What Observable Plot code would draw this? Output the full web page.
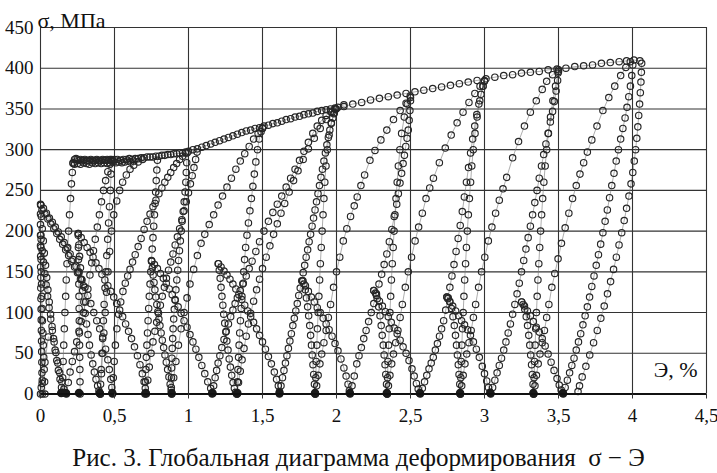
<!DOCTYPE html>
<html><head><meta charset="utf-8">
<script src="https://cdn.jsdelivr.net/npm/d3@7"></script>
<script src="https://cdn.jsdelivr.net/npm/@observablehq/plot@0.6"></script>
<style>
body{margin:0;background:#fff;width:717px;height:473px;overflow:hidden;font-family:"Liberation Serif","Times New Roman",serif;position:relative}
#chart{position:absolute;left:0;top:0}
#chart svg text{font-family:"Liberation Serif","Times New Roman",serif}
#cap{position:absolute;left:0;top:440px;width:717px;text-align:center;font-size:25px;line-height:35px;color:#111;white-space:pre}
</style></head><body><div id="chart"></div><div id="cap">Рис. 3. Глобальная диаграмма деформирования  σ − Э</div>
<script>
// ---- tick values ----
const xTicks = [0,0.5,1,1.5,2,2.5,3,3.5,4,4.5];
const yTicks = [0,50,100,150,200,250,300,350,400,450];
// ---- zero-stress points where curves touch the axis ----
const vBottoms = [0.14,0.172,0.26,0.40,0.485,0.71,0.886,1.16,1.33,1.615,1.855,2.09,2.34,2.564,2.835,3.04,3.33,3.53];
// ---- envelope (strain %, stress MPa) ----
const envelope = [[0.22,284],[0.23,288],[0.24,289],[0.25,288],[0.26,287],[0.27,288],[0.28,286],[0.29,287],[0.30,288],[0.31,286],[0.32,287],[0.33,286],[0.34,288],[0.35,287],[0.36,286],[0.37,287],[0.38,288],[0.39,287],[0.40,286],[0.41,287],[0.42,288],[0.43,287],[0.44,287],[0.45,288],[0.46,287],[0.47,288],[0.48,288],[0.49,287],[0.50,288],[0.52,288],[0.54,287],[0.56,288],[0.58,288],[0.60,289],[0.62,288],[0.64,289],[0.66,289],[0.68,290],[0.70,290],[0.72,291],[0.74,291],[0.76,291],[0.78,292],[0.80,292],[0.82,293],[0.84,293],[0.86,294],[0.88,294],[0.90,295],[0.92,295],[0.94,296],[0.96,296],[0.98,297],[1.00,298],[1.03,300],[1.06,301],[1.09,303],[1.12,305],[1.15,307],[1.18,309],[1.21,311],[1.24,313],[1.27,315],[1.30,317],[1.33,319],[1.36,321],[1.39,323],[1.42,324],[1.45,326],[1.48,327],[1.51,329],[1.54,330],[1.57,332],[1.60,333],[1.63,335],[1.66,337],[1.69,338],[1.72,340],[1.75,341],[1.78,343],[1.81,344],[1.84,345],[1.87,347],[1.90,348],[1.93,349],[1.96,350],[1.99,351],[2.05,353],[2.11,356],[2.17,358],[2.23,361],[2.29,363],[2.35,365],[2.41,367],[2.47,369],[2.53,371],[2.59,373],[2.65,375],[2.71,377],[2.77,379],[2.83,381],[2.89,383],[2.95,385],[3.01,387],[3.07,389],[3.13,391],[3.19,392],[3.25,394],[3.31,395],[3.37,396],[3.43,398],[3.49,399],[3.55,400],[3.61,402],[3.67,403],[3.73,404],[3.79,406],[3.85,407],[3.91,408],[3.96,409],[4.01,410],[4.05,409]];
const plateauLow = [[0.23,282],[0.25,283],[0.27,282],[0.29,284],[0.31,283],[0.33,282],[0.35,284],[0.37,283],[0.39,284],[0.41,283],[0.43,284],[0.45,283],[0.47,284],[0.49,285],[0.51,284],[0.53,285],[0.55,284],[0.57,285],[0.59,286],[0.61,285],[0.63,286]];
// ---- first cycles ----
const initLoad = [[0,0],[0.005,8],[0.012,17],[0.03,39],[0.053,70]];
const riseA = [[0.012,0],[0.011,13],[0.01,26],[0.009,39],[0.008,52],[0.007,65],[0.006,78],[0.005,91],[0.004,104],[0.003,117],[0.002,130],[0.002,143],[0.001,156],[0.001,169],[0,182],[0,195],[0,208],[0,221],[0.002,232]];
const riseA2 = [[0.03,0],[0.028,15],[0.025,30],[0.022,45],[0.019,60],[0.016,75],[0.013,90],[0.011,105],[0.009,120],[0.007,135],[0.005,150],[0.004,165],[0.003,180],[0.003,195]];
const steepA1 = [[0.002,232],[0.006,218],[0.012,203],[0.019,188],[0.026,173],[0.034,158],[0.042,143],[0.05,128],[0.059,113],[0.068,98],[0.078,83],[0.088,68],[0.099,54],[0.11,41],[0.121,29],[0.132,18],[0.142,8],[0.149,1]];
const steepA2 = [[0.004,190],[0.012,176],[0.02,162],[0.029,148],[0.038,134],[0.048,120],[0.058,106],[0.069,92],[0.08,78],[0.092,64],[0.104,51],[0.117,38],[0.13,26],[0.144,15],[0.158,6],[0.17,1]];
const dropA = [[0,233],[0.02,228],[0.04,222],[0.06,216],[0.08,211],[0.1,205],[0.12,199],[0.14,193],[0.16,186],[0.18,179],[0.2,172],[0.22,165],[0.24,157],[0.26,149],[0.28,140],[0.3,131],[0.32,121],[0.34,111],[0.36,100],[0.38,90],[0.4,80],[0.42,68],[0.44,55],[0.455,42],[0.465,30],[0.475,18],[0.482,8],[0.486,1]];
const dropA2 = [[0.01,226],[0.03,221],[0.05,215],[0.07,209],[0.09,203],[0.11,197],[0.13,190],[0.15,184],[0.17,177],[0.19,170],[0.21,163],[0.23,156],[0.25,149],[0.27,141],[0.29,133]];
const yieldLoad = [[0.147,2],[0.15,20],[0.153,40],[0.157,60],[0.161,80],[0.165,100],[0.17,120],[0.174,140],[0.179,160],[0.184,180],[0.19,200],[0.196,220],[0.203,240],[0.209,258],[0.215,272],[0.22,283]];
const riseB = [[0.268,0],[0.267,15],[0.266,30],[0.265,45],[0.264,60],[0.263,75],[0.262,90],[0.261,105],[0.26,120],[0.259,135],[0.258,150],[0.257,165],[0.256,180],[0.255,195]];
const steepB = [[0.255,197],[0.259,183],[0.264,169],[0.27,155],[0.277,141],[0.285,127],[0.293,113],[0.302,99],[0.311,86],[0.321,73],[0.331,60],[0.342,48],[0.353,37],[0.364,27],[0.375,18],[0.386,10],[0.395,4],[0.402,0]];
const dropB = [[0.255,197],[0.275,192],[0.295,186],[0.315,180],[0.335,174],[0.355,168],[0.375,161],[0.395,154],[0.415,147],[0.435,140],[0.455,133],[0.475,126],[0.495,119],[0.515,111],[0.535,103],[0.555,95],[0.575,86],[0.595,77],[0.615,68],[0.635,58],[0.655,47],[0.672,36],[0.688,25],[0.7,15],[0.708,7],[0.712,1]];
const load1 = [[0.175,0],[0.188,14],[0.2,27],[0.215,40],[0.23,52],[0.245,64],[0.26,77],[0.275,89],[0.29,100],[0.305,113],[0.32,129],[0.334,146],[0.346,161],[0.358,176],[0.37,190],[0.384,205],[0.398,220],[0.412,236],[0.426,250],[0.44,262],[0.455,273],[0.47,282],[0.48,286]];
const unload1 = [[0.48,287],[0.477,270],[0.472,250],[0.466,230],[0.46,210],[0.454,190],[0.448,170],[0.442,150],[0.436,130],[0.43,110],[0.425,90],[0.42,70],[0.415,50],[0.41,30],[0.406,12],[0.404,0]];
const load2 = [[0.405,0],[0.412,25],[0.42,50],[0.428,75],[0.437,100],[0.446,125],[0.456,150],[0.467,175],[0.48,200],[0.495,220],[0.515,237],[0.535,250],[0.555,260],[0.58,269],[0.605,276],[0.63,281],[0.66,285],[0.69,288]];
const load3 = [[0.487,0],[0.492,20],[0.498,40],[0.506,60],[0.516,80],[0.528,98],[0.542,113],[0.557,126],[0.573,136],[0.589,145],[0.605,153],[0.622,162],[0.64,171],[0.66,181],[0.68,191],[0.7,202],[0.72,212],[0.74,221],[0.76,230],[0.78,238],[0.8,246],[0.82,253],[0.84,260],[0.86,266],[0.88,272],[0.9,278],[0.92,283],[0.94,288],[0.96,292],[0.98,296]];
const steepK = [[0.706,0],[0.709,15],[0.712,30],[0.715,45],[0.719,60],[0.723,75],[0.727,90],[0.731,105],[0.735,120],[0.74,135],[0.745,150],[0.75,164],[0.755,178],[0.76,192],[0.765,206],[0.77,220],[0.774,234],[0.778,248],[0.782,262],[0.786,275],[0.79,287]];
// ---- cycle to 1.0 % ----
const riseC = [[0.752,163],[0.756,155],[0.761,146],[0.767,137],[0.773,128],[0.779,119],[0.786,110],[0.793,101],[0.8,92],[0.807,84],[0.815,75],[0.823,66],[0.832,57],[0.841,48],[0.85,39],[0.859,30],[0.868,21],[0.876,12],[0.883,5],[0.887,0]];
const dropC = [[0.75,163],[0.77,159],[0.79,154],[0.81,148],[0.83,142],[0.85,136],[0.87,129],[0.89,122],[0.91,115],[0.93,107],[0.95,99],[0.97,90],[0.99,82],[1.01,73],[1.03,64],[1.05,55],[1.07,45],[1.09,35],[1.11,25],[1.13,15],[1.15,7],[1.165,1]];
const loadC = [[0.715,0],[0.725,17],[0.735,33],[0.747,50],[0.76,64],[0.773,77],[0.785,88],[0.797,99],[0.81,109],[0.823,120],[0.837,131],[0.851,142],[0.865,152],[0.88,162],[0.895,172],[0.91,183],[0.925,193],[0.94,203],[0.955,214],[0.97,225],[0.985,236],[1.0,247],[1.013,258],[1.025,268],[1.037,278],[1.048,288],[1.058,297]];
const unloadC = [[0.99,296],[0.988,284],[0.985,272],[0.982,260],[0.977,248],[0.971,236],[0.964,224],[0.957,212],[0.951,200],[0.945,188],[0.939,176],[0.933,164],[0.927,152],[0.921,140],[0.915,128],[0.909,116],[0.904,104],[0.9,92],[0.896,80],[0.893,68],[0.89,56],[0.888,44],[0.886,32],[0.885,20],[0.884,8]];
const gentleC = [[0.886,0],[0.9,20],[0.915,40],[0.932,60],[0.95,80],[0.97,100],[0.99,118],[1.01,135],[1.035,153],[1.06,170],[1.085,185],[1.11,196],[1.14,208],[1.17,220],[1.2,232],[1.23,243],[1.26,254],[1.29,265],[1.32,276],[1.35,286],[1.38,295],[1.41,304],[1.44,313],[1.47,320],[1.5,326]];
// ---- cycle to 1.5 % ----
const riseD = [[1.203,160],[1.208,152],[1.214,142],[1.22,131],[1.226,120],[1.232,109],[1.238,98],[1.245,87],[1.252,76],[1.259,65],[1.267,54],[1.275,43],[1.283,33],[1.292,23],[1.301,14],[1.31,7],[1.318,2],[1.325,0]];
const dropD = [[1.2,160],[1.22,156],[1.24,151],[1.26,146],[1.28,141],[1.3,135],[1.32,129],[1.34,122],[1.36,116],[1.38,109],[1.4,102],[1.42,95],[1.44,88],[1.46,80],[1.48,72],[1.5,64],[1.52,55],[1.54,46],[1.56,37],[1.58,27],[1.595,18],[1.607,10],[1.615,3]];
const loadD = [[1.16,0],[1.17,10],[1.18,20],[1.19,29],[1.2,38],[1.212,47],[1.225,57],[1.24,67],[1.255,77],[1.27,86],[1.285,95],[1.3,103],[1.315,111],[1.33,118],[1.35,127],[1.37,136],[1.39,145],[1.41,154],[1.43,163],[1.455,175],[1.48,187],[1.51,200],[1.54,212],[1.57,223],[1.6,233],[1.63,243],[1.66,254],[1.69,265],[1.72,276],[1.75,287],[1.78,298],[1.81,309],[1.84,320],[1.87,329],[1.9,336],[1.93,342],[1.96,347],[1.99,350]];
const steepD = [[1.328,0],[1.331,15],[1.334,30],[1.338,45],[1.342,60],[1.346,75],[1.351,90],[1.356,105],[1.361,120],[1.367,135],[1.373,150],[1.379,165],[1.386,180],[1.395,195],[1.405,210],[1.415,225],[1.425,240],[1.435,255],[1.445,270],[1.455,285],[1.466,300],[1.478,313],[1.49,322],[1.5,327]];
const gentleD = [[1.328,0],[1.338,14],[1.35,28],[1.362,42],[1.375,56],[1.39,71],[1.405,86],[1.42,99],[1.44,114],[1.46,128],[1.48,141],[1.5,154],[1.525,168],[1.55,182],[1.575,196],[1.6,209],[1.625,222],[1.65,234],[1.68,248],[1.71,262],[1.74,274],[1.775,288],[1.81,301],[1.85,314],[1.89,326],[1.93,337],[1.97,346],[2.01,352],[2.05,355]];
// ---- cycle to 2.0 % ----
const loadE = [[1.615,0],[1.625,10],[1.635,20],[1.645,29],[1.655,38],[1.665,47],[1.675,56],[1.685,65],[1.695,74],[1.705,84],[1.715,93],[1.725,102],[1.735,111],[1.745,121],[1.755,130],[1.765,139],[1.775,149],[1.785,158],[1.795,168],[1.805,177],[1.815,187],[1.825,196],[1.835,206],[1.845,216],[1.855,226],[1.865,236],[1.875,246],[1.885,256],[1.895,266],[1.905,276],[1.915,286],[1.925,296],[1.935,306],[1.945,315],[1.955,324],[1.965,332],[1.975,339],[1.985,345],[1.995,350]];
const steepE = [[1.857,0],[1.86,20],[1.863,40],[1.867,60],[1.871,80],[1.876,100],[1.881,120],[1.886,140],[1.891,160],[1.897,180],[1.903,200],[1.909,220],[1.915,240],[1.921,260],[1.929,280],[1.938,300],[1.95,318],[1.965,333],[1.982,344],[1.998,350]];
const riseE = [[1.855,0],[1.851,12],[1.846,24],[1.841,36],[1.836,48],[1.831,60],[1.825,72],[1.819,84],[1.812,96],[1.805,107],[1.797,118],[1.789,128],[1.78,135],[1.772,139]];
const dropE = [[1.772,139],[1.79,133],[1.81,126],[1.83,119],[1.85,113],[1.87,106],[1.89,100],[1.91,93],[1.93,86],[1.95,79],[1.97,71],[1.99,62],[2.01,53],[2.03,43],[2.05,32],[2.065,22],[2.078,12],[2.087,4]];
const gentleE = [[1.857,0],[1.866,10],[1.876,23],[1.888,37],[1.9,49],[1.915,63],[1.93,78],[1.945,94],[1.96,110],[1.98,131],[2.0,150],[2.022,168],[2.046,188],[2.07,203],[2.095,218],[2.12,231],[2.14,242],[2.165,256],[2.19,269],[2.226,287],[2.26,299],[2.3,312],[2.34,324],[2.385,337],[2.43,348],[2.47,357],[2.5,364]];
// ---- cycle to 2.5 % ----
const loadF = [[2.092,0],[2.105,10],[2.12,22],[2.137,37],[2.152,47],[2.168,57],[2.184,68],[2.2,78],[2.217,89],[2.235,100],[2.252,111],[2.27,123],[2.287,135],[2.305,147],[2.322,159],[2.34,172],[2.357,187],[2.374,202],[2.39,218],[2.407,233],[2.418,246],[2.429,259],[2.44,271],[2.45,283],[2.459,293],[2.468,304],[2.477,314],[2.485,324],[2.491,336],[2.496,348],[2.5,360]];
const steepF = [[2.342,0],[2.345,20],[2.348,40],[2.352,60],[2.356,80],[2.361,100],[2.366,120],[2.371,140],[2.377,160],[2.383,180],[2.389,200],[2.395,220],[2.402,240],[2.41,260],[2.418,280],[2.428,300],[2.44,320],[2.458,340],[2.478,356],[2.498,366]];
const riseF = [[2.342,0],[2.338,12],[2.333,24],[2.328,36],[2.322,48],[2.316,60],[2.309,72],[2.302,84],[2.294,96],[2.285,107],[2.275,117],[2.263,124],[2.252,127]];
const dropF = [[2.252,127],[2.27,121],[2.29,114],[2.31,108],[2.33,101],[2.35,95],[2.37,88],[2.39,81],[2.41,74],[2.43,66],[2.45,58],[2.47,50],[2.49,41],[2.51,31],[2.525,22],[2.54,13],[2.552,6],[2.562,1]];
const gentleF = [[2.342,0],[2.351,10],[2.361,23],[2.373,37],[2.385,49],[2.4,63],[2.415,78],[2.43,94],[2.445,110],[2.465,131],[2.485,150],[2.507,168],[2.531,188],[2.555,205],[2.58,222],[2.605,240],[2.63,253],[2.655,265],[2.695,284],[2.735,302],[2.775,318],[2.815,333],[2.855,346],[2.895,358],[2.935,369],[2.97,378],[3.0,385]];
// ---- cycle to 3.0 % ----
const loadG = [[2.566,0],[2.58,7],[2.595,15],[2.61,23],[2.625,31],[2.64,38],[2.654,45],[2.668,54],[2.682,62],[2.696,71],[2.71,80],[2.724,90],[2.738,103],[2.752,117],[2.766,131],[2.78,145],[2.794,159],[2.808,175],[2.822,191],[2.836,207],[2.85,224],[2.864,242],[2.878,260],[2.892,278],[2.906,296],[2.92,313],[2.934,329],[2.948,343],[2.962,356],[2.976,368],[2.99,378],[3.0,384]];
const steepG = [[2.837,0],[2.84,20],[2.843,40],[2.847,60],[2.851,80],[2.856,100],[2.861,120],[2.866,140],[2.872,160],[2.878,180],[2.884,200],[2.891,220],[2.898,240],[2.906,260],[2.914,280],[2.924,300],[2.936,320],[2.95,340],[2.968,360],[2.99,378]];
const riseG = [[2.837,0],[2.833,12],[2.828,24],[2.823,36],[2.817,48],[2.811,60],[2.804,72],[2.796,84],[2.787,95],[2.777,105],[2.766,113],[2.755,118],[2.746,119]];
const dropG = [[2.746,119],[2.765,114],[2.785,108],[2.805,102],[2.825,96],[2.845,90],[2.865,85],[2.885,79],[2.905,72],[2.925,64],[2.945,55],[2.965,45],[2.985,34],[3.0,25],[3.015,16],[3.027,8],[3.037,2]];
const gentleG = [[2.837,0],[2.846,10],[2.856,23],[2.868,37],[2.88,49],[2.895,63],[2.91,78],[2.925,94],[2.94,110],[2.96,131],[2.98,150],[3.002,168],[3.026,188],[3.05,205],[3.075,222],[3.1,238],[3.125,252],[3.15,266],[3.19,290],[3.23,310],[3.27,329],[3.31,346],[3.35,360],[3.39,374],[3.42,384],[3.46,392],[3.5,398]];
// ---- cycle to 3.5 % ----
const loadH = [[3.042,0],[3.055,8],[3.07,17],[3.085,26],[3.1,35],[3.115,44],[3.13,54],[3.145,64],[3.16,75],[3.175,86],[3.19,98],[3.205,110],[3.22,123],[3.235,136],[3.25,150],[3.265,164],[3.28,178],[3.295,192],[3.31,206],[3.325,220],[3.34,235],[3.355,250],[3.37,265],[3.385,280],[3.4,294],[3.415,307],[3.43,320],[3.445,334],[3.46,347],[3.472,359],[3.484,372],[3.494,385],[3.5,396]];
const steepH = [[3.332,0],[3.335,20],[3.338,40],[3.342,60],[3.346,80],[3.351,100],[3.356,120],[3.361,140],[3.367,160],[3.373,180],[3.379,200],[3.386,220],[3.393,240],[3.401,260],[3.41,280],[3.42,300],[3.432,320],[3.446,340],[3.462,360],[3.48,378],[3.497,394]];
const riseH = [[3.332,0],[3.328,12],[3.323,24],[3.318,36],[3.312,48],[3.306,60],[3.299,72],[3.291,84],[3.282,95],[3.272,104],[3.261,110],[3.251,113]];
const dropH = [[3.251,113],[3.27,108],[3.29,102],[3.31,96],[3.33,89],[3.35,82],[3.37,76],[3.39,68],[3.41,59],[3.43,49],[3.45,39],[3.47,29],[3.49,19],[3.505,11],[3.518,5],[3.528,1]];
const gentleH = [[3.332,0],[3.341,10],[3.351,23],[3.363,37],[3.375,49],[3.39,63],[3.405,78],[3.42,94],[3.435,110],[3.455,131],[3.475,148],[3.497,166],[3.52,185],[3.545,204],[3.57,222],[3.595,240],[3.62,256],[3.645,270],[3.67,284],[3.695,297],[3.725,312],[3.76,329],[3.8,348],[3.84,364],[3.88,378],[3.92,391],[3.955,401],[3.985,408]];
// ---- cycle to 4.0 % and final unloading ----
const loadI = [[3.532,0],[3.545,8],[3.56,17],[3.575,26],[3.59,35],[3.605,44],[3.62,54],[3.635,64],[3.65,74],[3.665,85],[3.68,96],[3.695,107],[3.71,119],[3.725,132],[3.74,145],[3.755,158],[3.77,171],[3.785,184],[3.8,198],[3.815,212],[3.83,226],[3.845,241],[3.86,256],[3.875,271],[3.89,286],[3.905,300],[3.92,313],[3.935,326],[3.95,339],[3.963,352],[3.975,365],[3.986,378],[3.995,391],[4.002,404]];
const finalUnload = [[4.062,406],[4.06,395],[4.057,383],[4.053,370],[4.048,356],[4.042,342],[4.036,328],[4.029,314],[4.021,300],[4.012,286],[4.002,272],[3.99,258],[3.976,243],[3.96,228],[3.944,213],[3.927,198],[3.909,183],[3.891,168],[3.872,153],[3.852,138],[3.831,123],[3.809,108],[3.786,93],[3.762,78],[3.737,63],[3.711,48],[3.685,34],[3.66,21],[3.642,10],[3.632,3]];

const segments = {envelope, plateauLow, initLoad, riseA, riseA2, steepA1, steepA2, dropA, dropA2, yieldLoad, riseB, steepB, dropB, load1, unload1, load2, load3, steepK,
  riseC, dropC, loadC, unloadC, gentleC, riseD, dropD, loadD, steepD, gentleD, loadE, steepE, riseE, dropE, gentleE,
  loadF, steepF, riseF, dropF, gentleF, loadG, steepG, riseG, dropG, gentleG, loadH, steepH, riseH, dropH, gentleH, loadI, finalUnload};
const rows = [];
for (const [name, pts] of Object.entries(segments)) for (const [x, y] of pts) rows.push({x, y, seg: name});

const serif = "'Liberation Serif', 'Times New Roman', serif";
const fmt = d => String(d).replace(".", ",");
const chart = Plot.plot({
  width: 717, height: 438,
  marginLeft: 40, marginRight: 11, marginTop: 27, marginBottom: 44.5,
  style: {fontFamily: serif, fontSize: "19px", color: "#111", background: "white", overflow: "visible"},
  x: {domain: [0, 4.5], ticks: xTicks},
  y: {domain: [0, 450], ticks: yTicks},
  marks: [
    Plot.gridY(yTicks, {stroke: "#333", strokeOpacity: 1, strokeWidth: 1.1}),
    Plot.gridX(xTicks, {stroke: "#333", strokeOpacity: 1, strokeWidth: 1.1}),
    Plot.line(rows, {x: "x", y: "y", z: "seg", stroke: "#777", strokeWidth: 0.6}),
    Plot.dot(rows, {x: "x", y: "y", r: 3.2, stroke: "#262626", strokeWidth: 1.15, fill: "none"}),
    Plot.dot(vBottoms, {x: d => d, y: () => 0, r: 3.5, dy: -1, fill: "#1a1a1a", stroke: "#1a1a1a"}),
    Plot.ruleY([0], {stroke: "#111", strokeWidth: 2}),
    Plot.axisX(xTicks, {tickSize: 5, tickPadding: 9, tickFormat: fmt, label: null, stroke: "#333", fontFamily: serif}),
    Plot.axisY(yTicks, {tickSize: 0, tickPadding: 7, label: null, fontFamily: serif}),
    Plot.text(["σ, МПа"], {frameAnchor: "top-left", text: d => d, textAnchor: "start", dx: -3, dy: -15, fontSize: 22, fontFamily: serif}),
    Plot.text(["Э, %"], {frameAnchor: "bottom-right", text: d => d, textAnchor: "end", dx: -9, dy: -17, fontSize: 22, fontFamily: serif})
  ]
});
document.getElementById("chart").appendChild(chart);
</script>
</body></html>
